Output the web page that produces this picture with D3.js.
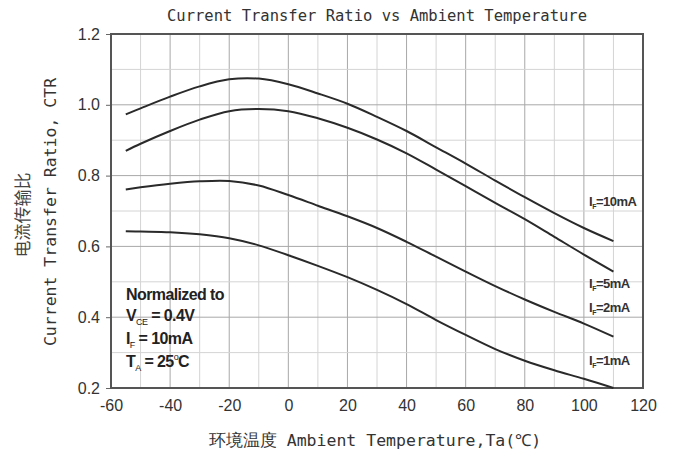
<!DOCTYPE html>
<html><head><meta charset="utf-8">
<script src="https://cdn.jsdelivr.net/npm/d3@7"></script>
<style>
body{margin:0;background:#fff;}
svg{display:block;}
</style></head>
<body>
<svg id="chart" width="678" height="454"></svg>
<script>
const temps   = [-55,-50,-40,-30,-20,-10,0,10,20,30,40,50,60,70,80,90,100,110];
const ctr10mA = [0.973,0.99,1.023,1.052,1.072,1.074,1.058,1.032,1.003,0.966,0.926,0.88,0.834,0.786,0.739,0.694,0.652,0.615];
const ctr5mA  = [0.870,0.89,0.926,0.958,0.982,0.988,0.982,0.962,0.935,0.902,0.863,0.817,0.770,0.723,0.677,0.627,0.577,0.529];
const ctr2mA  = [0.761,0.767,0.777,0.784,0.785,0.772,0.745,0.715,0.685,0.652,0.613,0.571,0.529,0.488,0.450,0.415,0.382,0.345];
const ctr1mA  = [0.643,0.642,0.640,0.634,0.623,0.603,0.575,0.545,0.513,0.477,0.437,0.392,0.350,0.310,0.277,0.250,0.226,0.200];
const seriesNames = ["10mA","5mA","2mA","1mA"];
const xTicks = [-60,-40,-20,0,20,40,60,80,100,120];
const yTicks = [0.2,0.4,0.6,0.8,1.0,1.2];
const xMinor = d3.range(-60,121,10);
const yMinor = d3.range(0.2,1.2001,0.1);
const titleText = "Current Transfer Ratio vs Ambient Temperature";
const xTitle = "环境温度 Ambient Temperature,Ta(℃)";
const yTitleCn = "电流传输比";
const yTitleEn = "Current Transfer Ratio, CTR";
const labelYValues = [0.715,0.482,0.415,0.265];

const svg = d3.select("#chart");
const L=111, R=643, T=34, B=388;
const x = d3.scaleLinear().domain([-60,120]).range([L,R]);
const y = d3.scaleLinear().domain([0.2,1.2]).range([B,T]);

// grid
const g = svg.append("g");
g.selectAll(".vx").data(xMinor).join("line")
  .attr("x1",d=>x(d)).attr("x2",d=>x(d)).attr("y1",T).attr("y2",B)
  .attr("stroke",d=>d%20===0?"#a8a8a8":"#d4d4d4").attr("stroke-width",1);
g.selectAll(".hy").data(yMinor).join("line")
  .attr("y1",d=>y(d)).attr("y2",d=>y(d)).attr("x1",L).attr("x2",R)
  .attr("stroke",(d,i)=>i%2===0?"#a8a8a8":"#d4d4d4").attr("stroke-width",1);

// axes
const yAxis = d3.axisLeft(y).tickValues(yTicks).tickFormat(d3.format(".1f")).tickSize(5).tickPadding(6);
const ya = svg.append("g").attr("transform",`translate(${L},0)`).call(yAxis);
ya.select(".domain").remove();
ya.selectAll("line").attr("stroke","#666");
ya.selectAll("text").attr("font-family","Liberation Sans, Arial, sans-serif").attr("font-size",16).attr("fill","#333");

const xAxis = d3.axisBottom(x).tickValues(xTicks).tickSize(0).tickPadding(12);
const xa = svg.append("g").attr("transform",`translate(0,${B})`).call(xAxis);
xa.select(".domain").remove();
xa.selectAll("text").attr("font-family","Liberation Sans, Arial, sans-serif").attr("font-size",16).attr("fill","#333")
  .text(d=>d<0?"-"+Math.abs(d):d);

// frame
svg.append("rect").attr("x",L).attr("y",T).attr("width",R-L).attr("height",B-T)
  .attr("fill","none").attr("stroke","#555").attr("stroke-width",2);

// curves
const allSeries = [ctr10mA,ctr5mA,ctr2mA,ctr1mA];
const line = d3.line().x((d,i)=>x(temps[i])).y(d=>y(d)).curve(d3.curveCatmullRom.alpha(0.5));
svg.append("g").selectAll("path").data(allSeries).join("path")
  .attr("d",line).attr("fill","none").attr("stroke","#2a2a2a").attr("stroke-width",2);

// series labels
const lab = svg.append("g").attr("font-family","Liberation Sans, Arial, sans-serif")
  .attr("font-weight","bold").attr("font-size",13).attr("fill","#333").attr("letter-spacing","-0.5");
seriesNames.forEach((n,i)=>{
  const t = lab.append("text").attr("x",589).attr("y",y(labelYValues[i]));
  t.append("tspan").text("I");
  t.append("tspan").attr("font-size",7).attr("dy",3).text("F");
  t.append("tspan").attr("dy",-3).text("="+n);
});

// annotation
const ann = svg.append("g").attr("font-family","Liberation Sans, Arial, sans-serif")
  .attr("font-weight","bold").attr("font-size",16).attr("fill","#222").attr("letter-spacing","-0.6");
ann.append("text").attr("x",126).attr("y",300).text("Normalized to");
let a = ann.append("text").attr("x",126).attr("y",321);
a.append("tspan").text("V");
a.append("tspan").attr("font-size",9).attr("dy",4).attr("font-weight","normal").text("CE");
a.append("tspan").attr("dy",-4).text(" = 0.4V");
a = ann.append("text").attr("x",126).attr("y",344);
a.append("tspan").text("I");
a.append("tspan").attr("font-size",9).attr("dy",4).attr("font-weight","normal").text("F");
a.append("tspan").attr("dy",-4).text(" = 10mA");
a = ann.append("text").attr("x",126).attr("y",367);
a.append("tspan").text("T");
a.append("tspan").attr("font-size",9).attr("dy",4).attr("font-weight","normal").text("A");
a.append("tspan").attr("dy",-4).text(" = 25");
a.append("tspan").attr("font-size",9).attr("dy",-7).attr("font-weight","normal").text("o");
a.append("tspan").attr("dy",7).text("C");

// titles
const mono = "'DejaVu Sans Mono','Liberation Mono',monospace";
svg.append("text").attr("x",(L+R)/2).attr("y",21).attr("text-anchor","middle")
  .attr("font-family",mono).attr("font-size",15.5).attr("fill","#333").text(titleText);
svg.append("text").attr("x",(L+R)/2 - 2).attr("y",446).attr("text-anchor","middle")
  .attr("font-family",mono).attr("font-size",16.5).attr("fill","#333").text(xTitle);
svg.append("text").attr("transform","translate(29,215) rotate(-90)").attr("text-anchor","middle")
  .attr("font-family","'Noto Sans CJK SC',sans-serif").attr("font-size",17).attr("fill","#444").text(yTitleCn);
svg.append("text").attr("transform","translate(56,212) rotate(-90)").attr("text-anchor","middle")
  .attr("font-family",mono).attr("font-size",16.5).attr("fill","#333").text(yTitleEn);
</script>
</body></html>
